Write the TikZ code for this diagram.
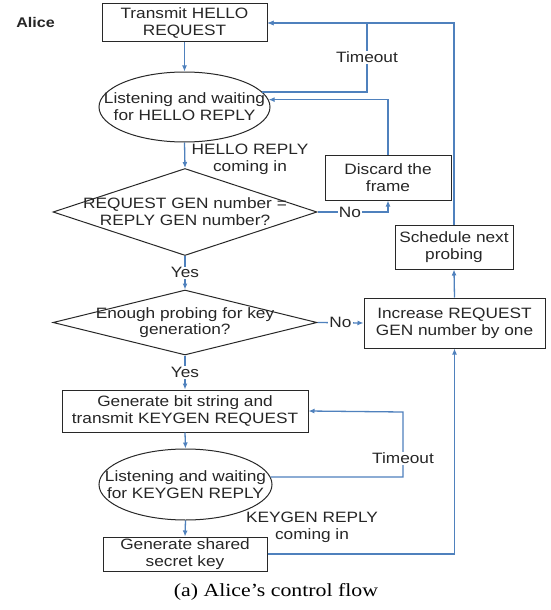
\documentclass[tikz,border=0pt]{standalone}
\usepackage{fontspec}
\newfontfamily\sfb{Liberation Sans}[FakeStretch=1.15]
\newfontfamily\capf{Liberation Serif}[FakeStretch=1.18]
\usetikzlibrary{shapes.geometric,arrows.meta}
\definecolor{flowblue}{RGB}{79,129,189}
\definecolor{edgegray}{RGB}{40,40,40}
\begin{document}
\begin{tikzpicture}[x=1pt,y=-1pt,
  txt/.style={font=\sfb\fontsize{15}{17}\selectfont, align=center, inner sep=0pt, text=black!85},
  box/.style={draw=edgegray, line width=1pt, rectangle, inner sep=0pt, txt},
  ell/.style={draw=edgegray, line width=1pt, ellipse, inner sep=0pt},
  dia/.style={draw=edgegray, line width=1pt, diamond, inner sep=0pt},
  flow/.style={draw=flowblue, line width=1.3pt, -{Latex[length=6pt,width=5pt]}},
  lbl/.style={txt, fill=white, inner sep=1pt},
]
\useasboundingbox[fill=white] (0,0) rectangle (551,610);

\node[txt, font=\sfb\bfseries\fontsize{14}{16}\selectfont] (alice) at (35.5,22) {Alice};

\node[box, minimum width=165, minimum height=38] (b1) at (184.5,23) {Transmit HELLO\\REQUEST};
\node[ell, minimum width=171, minimum height=70] (e1) at (184.5,107) {};
\node[txt] (e1t) at (e1.center) {Listening and waiting\\for HELLO REPLY};
\node[dia, minimum width=264, minimum height=87] (d1) at (185,212) {};
\node[txt] (d1t) at (d1.center) {REQUEST GEN number =\\REPLY GEN number?};
\node[box, minimum width=126, minimum height=45] (disc) at (388,177.5) {Discard the\\frame};
\node[box, minimum width=118, minimum height=44] (sched) at (454,247) {Schedule next\\probing};
\node[dia, minimum width=264, minimum height=65] (d2) at (185,322.5) {};
\node[txt, font=\sfb\fontsize{15}{16}\selectfont] (d2t) at (d2.center) {Enough probing for key\\generation?};
\node[box, minimum width=181, minimum height=50] (inc) at (454.5,323) {Increase REQUEST\\GEN number by one};
\node[box, minimum width=246, minimum height=42] (b2) at (185,411) {Generate bit string and\\transmit KEYGEN REQUEST};
\node[ell, minimum width=173, minimum height=71] (e2) at (185.5,484.5) {};
\node[txt] (e2t) at (e2.center) {Listening and waiting\\for KEYGEN REPLY};
\node[box, minimum width=164, minimum height=34] (fin) at (185,554) {Generate shared\\secret key};
\node[txt] (hr) at (250,159) {HELLO REPLY\\coming in};
\node[txt] (kr) at (312,527) {KEYGEN REPLY\\coming in};
\node[font=\capf\fontsize{18.5}{20}\selectfont, inner sep=0pt] (cap) at (276,592) {(a) Alice’s control flow};

\coordinate (c1) at (367,23);
\coordinate (c2) at (403,412);

\draw[flow] (b1.south) -- (e1.north);
\draw[flow] (e1.south) -- (d1.north);
\draw[flow] (d1.south) -- node[lbl]{Yes} (d2.north);
\draw[flow] (d2.south) -- node[lbl]{Yes} (b2.north);
\draw[flow] (b2.south) -- (e2.north);
\draw[flow] (e2.south) -- (fin.north);
\draw[flow] (d1.east) -| node[lbl,pos=0.23]{No} (disc.south);
\draw[flow] (d2.east) -- node[lbl]{No} (inc.west);
\draw[flow] (disc.north) |- (e1.5);
\draw[flow] (e1.11) -| node[lbl,pos=0.75]{Timeout} (c1) -- (b1.east);
\draw[flow] (fin.east) -| (inc.south);
\draw[flow] (inc.north) -- (sched.south);
\draw[flow] (sched.north) |- (b1.east);
\draw[flow] (e2.5) -| node[lbl,pos=0.644]{Timeout} (c2) -- (b2.east);
\end{tikzpicture}
\end{document}
